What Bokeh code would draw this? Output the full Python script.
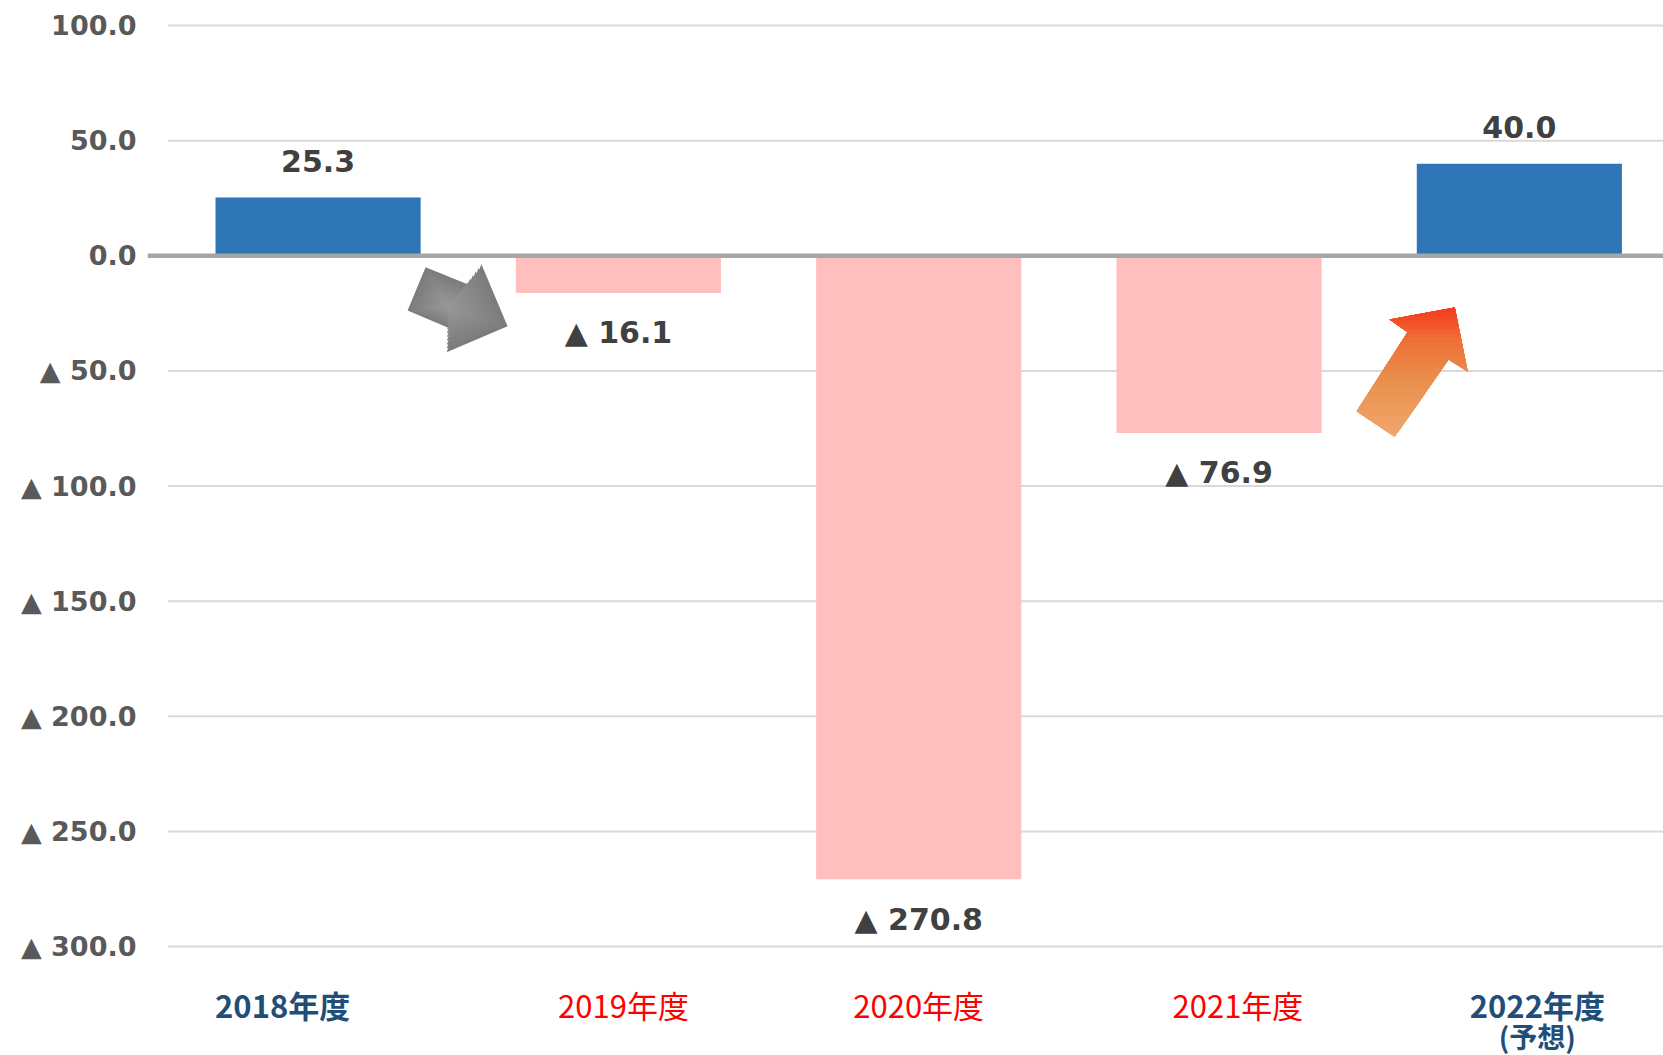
from bokeh.plotting import figure
from bokeh.models import ColumnDataSource, FixedTicker, Range1d, CustomJSTickFormatter
from bokeh.core.properties import value
from bokeh.embed import file_html
from bokeh.resources import INLINE

# ---------------- data ----------------
years = ["2018年度", "2019年度", "2020年度", "2021年度", "2022年度"]
sub_labels = ["", "", "", "", "(予想)"]
profits = [25.3, -16.1, -270.8, -76.9, 40.0]
y_ticks = [100, 50, 0, -50, -100, -150, -200, -250, -300]

# ---------------- styles ----------------
POS_BAR = "#2E75B6"
NEG_BAR = "#FFBFBF"
POS_LBL = "#1F4E79"
NEG_LBL = "#FF0000"
label_dx = [-0.118, 0.017, 0.0, 0.063, 0.06]   # x-label nudges (category units)

X_START, X_END = -0.568, 4.48
Y_START, Y_END = -347.3, 110.9

def fmt(v):
    return f"{v:.1f}" if v >= 0 else f"▲ {abs(v):.1f}"

xs = list(range(len(years)))

p = figure(width=1663, height=1055, output_backend="svg", toolbar_location=None,
           x_range=Range1d(X_START, X_END), y_range=Range1d(Y_START, Y_END),
           x_axis_location=None, min_border_left=147, min_border_right=0,
           min_border_top=0, min_border_bottom=0)
p.outline_line_color = None
p.xgrid.visible = False
p.ygrid.visible = False
p.background_fill_color = "white"
p.border_fill_color = "white"

# gridlines
grid_vals = [t for t in y_ticks if t != 0]
p.segment(x0=[-0.5] * len(grid_vals), x1=[X_END] * len(grid_vals), y0=grid_vals, y1=grid_vals,
          line_color="#D9D9D9", line_width=2)

# bars
bar_src = ColumnDataSource(dict(
    x=xs, top=profits,
    color=[POS_BAR if v >= 0 else NEG_BAR for v in profits]))
p.vbar(x="x", top="top", bottom=0, width=0.683, fill_color="color", line_color=None, source=bar_src)

# zero line
p.segment(x0=[X_START], x1=[X_END], y0=[0], y1=[0], line_color="#A6A6A6", line_width=4.5)

# data labels
lab_src = ColumnDataSource(dict(
    x=xs, y=profits, text=[fmt(v) for v in profits],
    yoff=[-37 if v >= 0 else 40 for v in profits]))
p.text(x="x", y="y", text="text", y_offset="yoff", source=lab_src,
       text_font=value("DejaVu Sans"), text_font_style="bold", text_font_size="30px",
       text_color="#404040", text_align="center", text_baseline="middle")

# category labels
for i, (yr, sub, v) in enumerate(zip(years, sub_labels, profits)):
    pos = v >= 0
    col = POS_LBL if pos else NEG_LBL
    style = "bold" if pos else "normal"
    p.text(x=[xs[i] + label_dx[i]], y=[y_ticks[-1]], text=[yr], y_offset=[58],
           text_font=value("Noto Sans CJK JP"), text_font_style=style, text_font_size="31px",
           text_color=col, text_align="center", text_baseline="middle")
    if sub:
        p.text(x=[xs[i] + label_dx[i]], y=[y_ticks[-1]], text=[sub], y_offset=[89],
               text_font=value("Noto Sans CJK JP"), text_font_style=style, text_font_size="28px",
               text_color=col, text_align="center", text_baseline="middle")

# ---------- decorative arrows ----------
def clip_above(pts, c):
    out = []
    n = len(pts)
    for i in range(n):
        P, Q = pts[i], pts[(i + 1) % n]
        pin, qin = P[1] >= c, Q[1] >= c
        if pin:
            out.append(P)
        if pin != qin:
            t = (c - P[1]) / (Q[1] - P[1])
            out.append((P[0] + t * (Q[0] - P[0]), c))
    return out

def mix(c1, c2, t):
    a = [int(c1[i:i + 2], 16) for i in (1, 3, 5)]
    b = [int(c2[i:i + 2], 16) for i in (1, 3, 5)]
    return "#%02x%02x%02x" % tuple(round(a[k] + (b[k] - a[k]) * t) for k in range(3))

# gray "down" arrow (radial-ish shading)
gray = [(0.358, -5.0), (0.514, -13.2), (0.544, -3.7), (0.631, -30.6),
        (0.428, -41.9), (0.455, -32.4), (0.298, -23.7)]
gc = (0.43, -22.0)
n_g = 12
for k in range(n_g):
    s = 1.0 - k / n_g
    pts = [(gc[0] + (x - gc[0]) * s, gc[1] + (y - gc[1]) * s) for x, y in gray]
    p.patch([q[0] for q in pts], [q[1] for q in pts],
            fill_color=mix("#7C7C7C", "#989898", k / (n_g - 1)), line_color=None)

# orange "up" arrow (vertical gradient)
orange = [(3.568, -27.6), (3.785, -22.4), (3.828, -50.2), (3.764, -45.0),
          (3.585, -78.8), (3.458, -67.5), (3.628, -33.2)]
ymin = min(q[1] for q in orange)
ymax = max(q[1] for q in orange)
stops = [(0.0, "#F0A86E"), (0.45, "#EA8E4C"), (0.75, "#EE6F38"), (1.0, "#F5381C")]
def grad(t):
    for (t0, c0), (t1, c1) in zip(stops[:-1], stops[1:]):
        if t <= t1:
            return mix(c0, c1, (t - t0) / (t1 - t0))
    return stops[-1][1]
n_o = 30
for k in range(n_o):
    t = k / n_o
    c = ymin + (ymax - ymin) * t
    pts = clip_above(orange, c) if k > 0 else orange
    if len(pts) >= 3:
        p.patch([q[0] for q in pts], [q[1] for q in pts],
                fill_color=grad(t + 0.5 / n_o), line_color=None)

# y axis
p.yaxis.ticker = FixedTicker(ticks=y_ticks)
p.yaxis.formatter = CustomJSTickFormatter(
    code="return tick < 0 ? '\u25B2 ' + (-tick).toFixed(1) : tick.toFixed(1);")
p.yaxis.axis_line_color = None
p.yaxis.major_tick_line_color = None
p.yaxis.minor_tick_line_color = None
p.yaxis.major_label_text_font = "DejaVu Sans"
p.yaxis.major_label_text_font_style = "bold"
p.yaxis.major_label_text_font_size = "27px"
p.yaxis.major_label_text_color = "#595959"
p.yaxis.major_label_standoff = 5

open("out.html", "w").write(file_html(p, INLINE))
